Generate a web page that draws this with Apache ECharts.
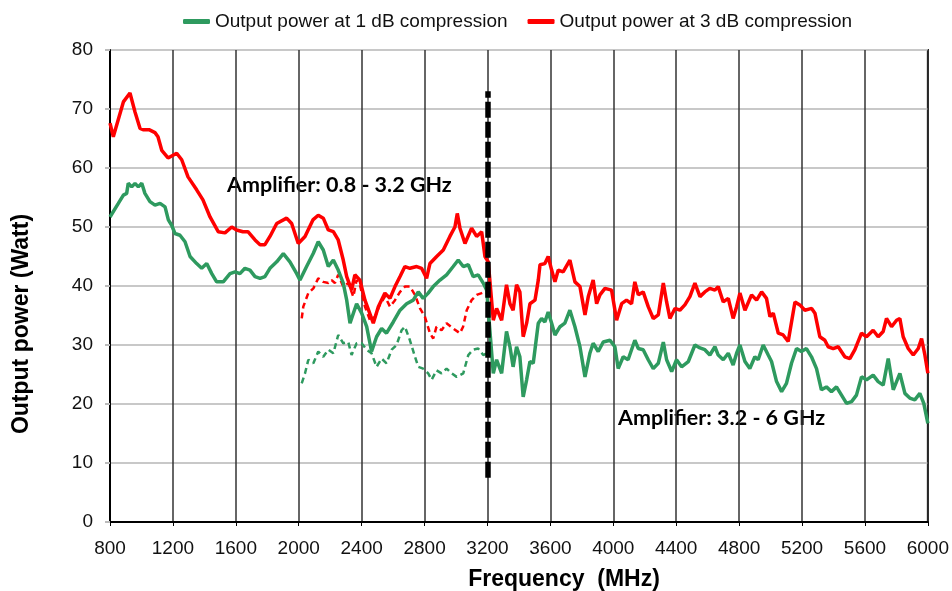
<!DOCTYPE html>
<html>
<head>
<meta charset="utf-8">
<script src="https://cdn.jsdelivr.net/npm/echarts@6/dist/echarts.min.js"></script>
<style>
html,body{margin:0;padding:0;background:#fff;}
#c{width:952px;height:591px;}
</style>
</head>
<body>
<div id="c"></div>
<script>
// ---- DATA ----
const xTicks = {min: 800, max: 6000, step: 400};
const yTicks = {min: 0, max: 80, step: 10};

const seriesNames = ['Output power at 1 dB compression', 'Output power at 3 dB compression'];

// 3 dB compression, solid (0.8-3.2 GHz amp then 3.2-6 GHz amp)
const f3 = [800,821,885,927,959,991,1010,1048,1086,1105,1129,1169,1224,1256,1296,1351,1391,1436,1488,1531,1574,1605,1645,1677,1722,1754,1785,1817,1860,1923,1955,1997,2040,2090,2124,2156,2188,2220,2251,2283,2305,2336,2357,2389,2421,2474,2506,2548,2580,2612,2644,2675,2707,2750,2781,2813,2834,2877,2919,2961,2993,3008,3025,3057,3099,3131,3163,3184,3205,
  3237,3258,3290,3321,3343,3363,3385,3406,3427,3449,3470,3502,3523,3534,3565,3586,3608,3629,3650,3681,3724,3756,3788,3820,3841,3872,3894,3915,3947,3989,4021,4053,4084,4116,4137,4159,4190,4222,4254,4286,4318,4339,4360,4392,4423,4455,4487,4519,4551,4582,4614,4646,4667,4699,4731,4762,4784,4805,4837,4879,4911,4943,4974,4996,5017,5049,5080,5112,5155,5186,5218,5261,5282,5313,5345,5366,5398,5430,5472,5504,5536,5578,5610,5652,5684,5716,5737,5769,5801,5822,5843,5875,5907,5939,5960,5981,6000];
const p3 = [67.6,65.3,71.2,72.7,69.5,66.7,66.5,66.5,66,65.3,63,61.7,62.5,61.4,58.5,56.3,54.6,51.7,49.2,49,50,49.5,49.2,49.2,47.8,47,47,48.4,50.6,51.5,50.6,47.2,48.4,51.2,52,51.5,49.5,49.2,47.8,44.4,41.6,39.3,41.9,41,37.6,33.7,36.5,38.8,37.9,39.9,41.6,43.3,43,43.3,43,41.3,43.8,45,46.1,48.4,50,52.3,49.8,47.2,49.8,48.4,49.2,45,44.1,
  34.2,36.2,34.2,40.2,37,35.9,40.2,39,31.4,33.7,37,37.6,41,43.6,43.8,45,42.7,40.7,42.7,42.4,44.4,40.7,39.9,35.1,38.2,41,37,38.5,39.6,39.3,34.2,37,37.6,37,40.7,38.5,39,36.5,34.5,35.1,40.5,37.3,34.5,36.2,35.9,36.8,38.2,40.5,38.2,39,39.6,39.3,39.9,37.3,37.9,34.5,36.5,38.8,35.9,38.5,37.6,39,37.9,34.8,35.4,32,31.7,30.6,37.3,36.8,35.9,36.2,35.4,31.4,30.8,29.7,29.4,29.7,28,27.7,29.2,32,31.4,32.5,31.4,32.3,34.5,33.1,34.2,34.5,31.4,29.4,28.3,29.4,31.1,28.3,25.2];

// 1 dB compression, solid
const f1 = [800,853,885,906,916,938,959,980,1002,1022,1054,1086,1118,1150,1171,1192,1213,1245,1277,1309,1351,1383,1415,1447,1478,1520,1563,1595,1626,1658,1690,1722,1754,1785,1817,1860,1902,1944,1987,2008,2050,2092,2124,2156,2188,2220,2251,2283,2305,2326,2368,2400,2432,2463,2495,2527,2558,2601,2644,2686,2728,2760,2791,2823,2855,2898,2940,2982,3014,3046,3078,3109,3141,3173,3195,
  3237,3258,3290,3321,3343,3363,3385,3406,3427,3449,3470,3491,3523,3544,3565,3586,3608,3629,3661,3692,3724,3756,3788,3820,3851,3872,3904,3936,3979,4010,4031,4063,4094,4137,4159,4190,4222,4254,4286,4318,4339,4371,4402,4434,4477,4519,4551,4582,4614,4646,4667,4699,4731,4762,4784,4805,4837,4868,4900,4921,4953,4985,5006,5038,5070,5101,5133,5165,5196,5228,5260,5292,5323,5355,5387,5419,5451,5483,5515,5546,5578,5610,5652,5684,5716,5748,5780,5822,5854,5885,5917,5949,5974,6000];
const p1 = [51.7,54,55.4,55.7,57.4,56.8,57.4,56.8,57.4,55.7,54.3,53.7,54,53.4,51.2,50.3,48.9,48.6,47.5,45,43.8,43,43.8,42.1,40.7,40.7,42.1,42.4,42.1,43,42.7,41.6,41.3,41.6,43,44.1,45.5,44.1,42.1,41,43.3,45.5,47.5,46.1,43.3,44.4,42.7,40.5,37.6,33.7,37,35.4,33.1,28.9,31.4,32.8,32,33.9,35.9,37,37.6,39,37.9,38.8,39.9,41,41.9,43.3,44.4,43.3,43.6,41.6,41.9,40.5,39.3,
  25.2,27.5,25.2,32.3,29.7,26.3,29.7,28,21.2,24.1,27.2,26.9,33.7,34.5,33.9,35.6,33.7,31.7,33.1,33.7,35.9,33.1,29.7,24.6,28.6,30.3,28.9,30.5,30.8,29.7,26,28,27.5,30.8,29.4,29.2,27.5,26,26.9,30.5,27.5,25.5,27.5,26.3,27.2,30,29.5,29.2,28.3,29.7,28.3,27.5,28.6,26.6,28.6,30,27.2,26,28,27.5,30,28.3,27.2,23.8,22.1,23.5,26.9,29.4,28.9,29.4,28,26,22.4,22.9,22.1,22.9,21.5,20.1,20.4,21.5,24.6,24.1,24.9,23.8,23.2,27.7,22.4,25.2,21.8,21,20.7,21.8,20.1,16.7];

// 3 dB compression, dashed (2.0-3.2 GHz)
const f3d = [2019,2029,2061,2093,2124,2156,2188,2209,2230,2251,2283,2315,2347,2368,2389,2421,2453,2485,2516,2548,2580,2612,2644,2675,2707,2739,2771,2802,2834,2855,2876,2908,2940,2982,3025,3045,3068,3099,3131,3163,3184,3200];
const p3d = [34.5,36.5,38.8,39.6,41.3,40.7,40.5,41,40.5,41.9,39.9,40.5,38.2,41,40.2,36.5,34.2,34.8,36.8,38.2,36.5,37.6,39,39.9,39.9,38.5,36.2,34.8,32,31.1,33.1,32.5,33.7,32.8,32,33.1,35.9,37.6,38.5,38.8,39,38.8];

// 1 dB compression, dashed (2.0-3.2 GHz)
const f1d = [2019,2040,2061,2093,2124,2156,2188,2220,2251,2283,2315,2336,2368,2400,2432,2463,2495,2527,2558,2591,2622,2654,2675,2707,2739,2760,2791,2823,2845,2876,2908,2940,2972,3004,3046,3078,3109,3141,3173,3195];
const p1d = [23.5,25.2,27.5,26.9,28.9,28,29.2,28.6,31.7,30.3,30.5,28.3,30.3,30.3,29.2,28.6,26.3,27.7,26.9,29.2,30,32.5,33.1,30.8,28,26.3,26,25.2,24.1,25.7,25.2,26,25.2,24.6,25.2,28.3,29.2,29.4,28.3,28.6];

// band divider at 3.2 GHz
const dividerFreq = 3200;
const dividerRange = [7.5, 73];

// annotations
const annot1 = 'Amplifier: 0.8 - 3.2 GHz';
const annot2 = 'Amplifier: 3.2 - 6 GHz';
const xTitle = 'Frequency  (MHz)';
const yTitle = 'Output power (Watt)';

// ---- CHART ----
function zip(a, b) { return a.map((v, i) => [v, b[i]]); }
const GREEN = '#2e9a5f';
const RED = '#ff0000';
const FONT = '"Liberation Sans", Arial, sans-serif';

const chart = echarts.init(document.getElementById('c'), null, {renderer: 'canvas'});
chart.setOption({
  animation: false,
  backgroundColor: '#fff',
  grid: {left: 110, right: 24, top: 50, bottom: 69, show: true, borderColor: '#000', borderWidth: 2, containLabel: false},
  legend: {
    data: seriesNames,
    left: 178, top: 7,
    icon: 'roundRect', itemWidth: 27, itemHeight: 5, itemGap: 20,
    textStyle: {fontFamily: FONT, fontSize: 19, color: '#111'}
  },
  xAxis: {
    type: 'value', min: xTicks.min, max: xTicks.max, interval: xTicks.step,
    axisLine: {show: true, lineStyle: {color: '#000', width: 2}},
    axisTick: {show: true, length: 4, lineStyle: {color: '#000'}},
    axisLabel: {fontFamily: FONT, fontSize: 19, color: '#111', margin: 17, formatter: v => String(v)},
    splitLine: {show: true, lineStyle: {color: '#333', width: 1.5}}
  },
  yAxis: {
    type: 'value', min: yTicks.min, max: yTicks.max, interval: yTicks.step,
    axisLine: {show: true, lineStyle: {color: '#000', width: 2}},
    axisTick: {show: true, length: 5, lineStyle: {color: '#bbb', width: 2}},
    axisLabel: {fontFamily: FONT, fontSize: 19, color: '#111', margin: 17, formatter: v => String(v)},
    splitLine: {show: true, lineStyle: {color: '#c8c8c8', width: 2}}
  },
  series: [
    {name: 'g-dash', type: 'line', data: zip(f1d, p1d), showSymbol: false, symbol: 'none',
     lineStyle: {color: GREEN, width: 2.5, type: [6, 4]}, itemStyle: {color: GREEN}, z: 2},
    {name: 'r-dash', type: 'line', data: zip(f3d, p3d), showSymbol: false, symbol: 'none',
     lineStyle: {color: RED, width: 2.5, type: [6, 4]}, itemStyle: {color: RED}, z: 2},
    {name: seriesNames[0], type: 'line', data: zip(f1, p1), showSymbol: false, symbol: 'none',
     lineStyle: {color: GREEN, width: 3.5}, itemStyle: {color: GREEN}, z: 3},
    {name: seriesNames[1], type: 'line', data: zip(f3, p3), showSymbol: false, symbol: 'none',
     lineStyle: {color: RED, width: 3.5}, itemStyle: {color: RED}, z: 4,
     markLine: {
       silent: true, symbol: ['none', 'none'], label: {show: false},
       lineStyle: {color: '#000', width: 5.5, type: [16, 4]},
       data: [[{coord: [dividerFreq, dividerRange[0]]}, {coord: [dividerFreq, dividerRange[1]]}]]
     }}
  ],
  graphic: [
    {type: 'text', x: 22, y: 324, rotation: Math.PI / 2,
     style: {text: yTitle, font: 'bold 23px ' + FONT, fill: '#000', align: 'center', verticalAlign: 'middle'}},
    {type: 'text', x: 564, y: 580,
     style: {text: xTitle, font: 'bold 23px ' + FONT, fill: '#000', align: 'center', verticalAlign: 'middle'}},
    {type: 'text', x: 227, y: 185,
     style: {text: annot1, font: 'bold 21.5px Lato, sans-serif', fill: '#000', align: 'left', verticalAlign: 'middle'}},
    {type: 'text', x: 618, y: 418,
     style: {text: annot2, font: 'bold 21.5px Lato, sans-serif', fill: '#000', align: 'left', verticalAlign: 'middle'}}
  ]
});
</script>
</body>
</html>
